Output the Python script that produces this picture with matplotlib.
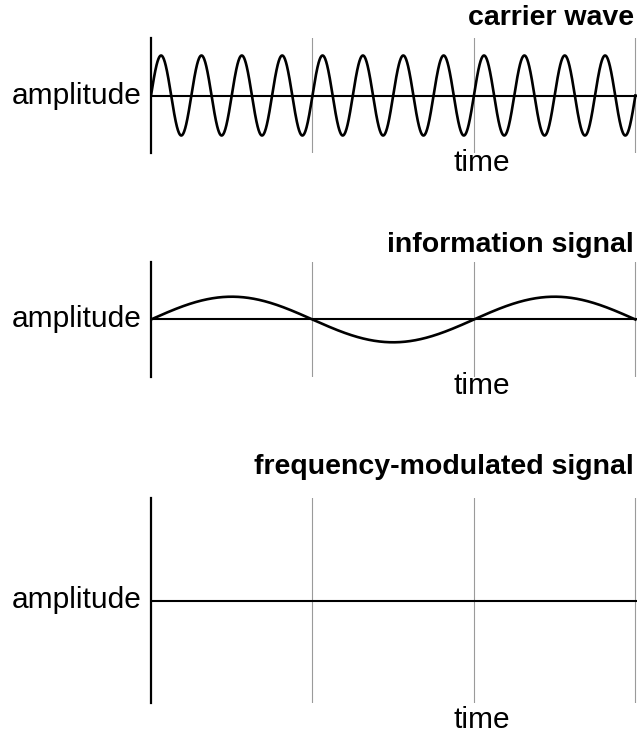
import numpy as np
import matplotlib
matplotlib.use("Agg")
import matplotlib.pyplot as plt

plt.rcParams['font.family'] = ['Liberation Sans', 'DejaVu Sans']

W, H = 637, 738

titles = ["carrier wave", "information signal", "frequency-modulated signal"]
carrier_cycles = 12      # full periods over the three time units
carrier_amp = 1.0
info_cycles = 1.5
info_amp = 0.57
time_marks = [1, 2, 3]

# panel boxes in pixels: top, bottom of the amplitude axis
panels = [(38, 153), (262, 377), (498, 703)]
title_y = [18, 245, 467]
time_y = [163, 386, 720]
x_left, x_right = 151, 637

t = np.linspace(0, 3, 2000)
carrier = carrier_amp * np.sin(2 * np.pi * carrier_cycles / 3 * t)
info = info_amp * np.sin(2 * np.pi * info_cycles / 3 * t)
waves = [carrier, info, None]

fig = plt.figure(figsize=(W / 100, H / 100), dpi=100)

for i, (top, bot) in enumerate(panels):
    ax = fig.add_axes([x_left / W, 1 - bot / H, (x_right - x_left) / W, (bot - top) / H])
    half = (bot - top) / 2 / 40
    ax.set_xlim(0, 3.01)
    ax.set_ylim(-half, half)
    for m in time_marks:
        ax.axvline(m, color='#9a9a9a', lw=0.8)
    ax.axhline(0, color='black', lw=1.5)
    if waves[i] is not None:
        ax.plot(t, waves[i], color='black', lw=1.9)
    for s in ['top', 'right', 'bottom']:
        ax.spines[s].set_visible(False)
    ax.spines['left'].set_linewidth(1.6)
    ax.set_xticks([])
    ax.set_yticks([])
    ax.patch.set_alpha(0)

    mid = (top + bot) / 2
    fig.text(142 / W, 1 - mid / H, "amplitude", ha='right', va='center', fontsize=21.5)
    fig.text(482 / W, 1 - time_y[i] / H, "time", ha='center', va='center', fontsize=21.5)
    fig.text(634 / W, 1 - title_y[i] / H, titles[i], ha='right', va='center',
             fontsize=20.5, fontweight='bold')

fig.savefig("out.png", dpi=100)
